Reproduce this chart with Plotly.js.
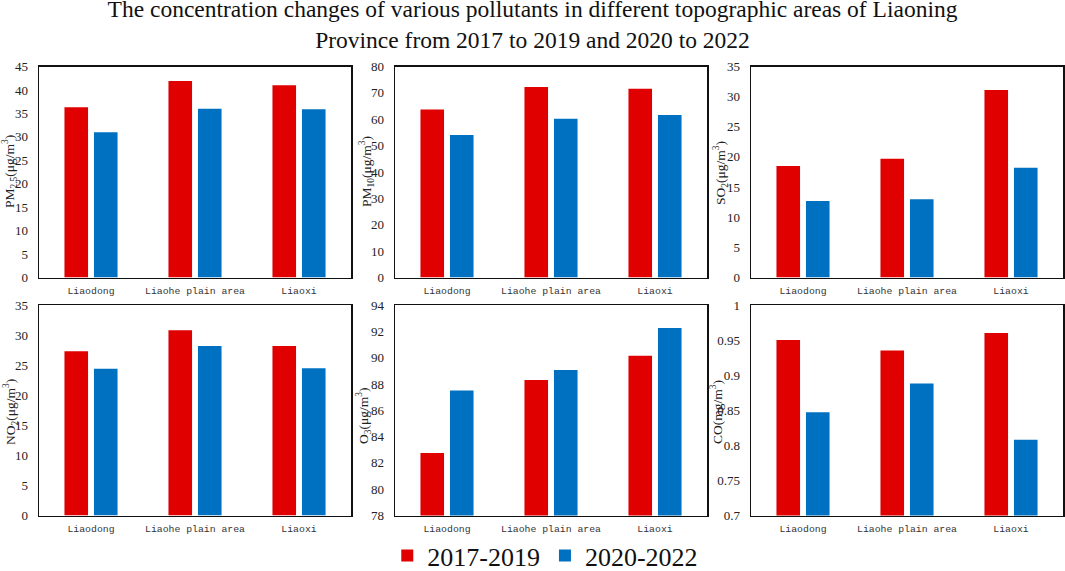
<!DOCTYPE html>
<html><head><meta charset="utf-8">
<script src="https://cdn.plot.ly/plotly-3.0.1.min.js"></script>
<style>html,body{margin:0;padding:0;background:#fff}</style></head>
<body><div id="c" style="width:1065px;height:571px"></div>
<script>
const categories = ["Liaodong","Liaohe plain area","Liaoxi"];
const seriesNames = ["2017-2019","2020-2022"];
const colors = ["#E00000","#0070C0"];
const pm25A = [36.3,41.9,41.0],  pm25B = [31.0,36.0,35.9];
const pm10A = [63.7,72.2,71.6],  pm10B = [54.0,60.2,61.6];
const so2A  = [18.5,19.7,31.1],  so2B  = [12.7,13.0,18.2];
const no2A  = [27.3,30.8,28.2],  no2B  = [24.4,28.2,24.5];
const o3A   = [82.75,88.3,90.15], o3B  = [87.5,89.05,92.25];
const coA   = [0.95,0.935,0.96], coB   = [0.847,0.888,0.808];
const W=1065,H=571;
const panels = [
 {a:pm25A,b:pm25B,t:"PM<sub>2.5</sub>(μg/m<sup>3</sup>)",r:[0,45],d:5,x:[39,351],y:[66.5,277.5],tx:10,ty:172},
 {a:pm10A,b:pm10B,t:"PM<sub>10</sub>(μg/m<sup>3</sup>)",r:[0,80],d:10,x:[395,707],y:[66.5,277.5],tx:367,ty:172},
 {a:so2A,b:so2B,t:"SO<sub>2</sub>(μg/m<sup>3</sup>)",r:[0,35],d:5,x:[751,1063],y:[66.5,277.5],tx:720,ty:173},
 {a:no2A,b:no2B,t:"NO<sub>2</sub>(μg/m<sup>3</sup>)",r:[0,35],d:5,x:[39,351],y:[305,515.5],tx:10,ty:412},
 {a:o3A,b:o3B,t:"O<sub>3</sub>(μg/m<sup>3</sup>)",r:[78,94],d:2,x:[395,707],y:[305,515.5],tx:363,ty:416},
 {a:coA,b:coB,t:"CO(mg/m<sup>3</sup>)",r:[0.7,1],d:0.05,x:[751,1063],y:[305,515.5],tx:716,ty:412}
];
const serif="Liberation Serif, Times New Roman, serif";
const data=[];
const layout={width:W,height:H,margin:{l:0,r:0,t:0,b:0,autoexpand:false},paper_bgcolor:"#fff",plot_bgcolor:"#fff",
 barmode:"group",bargap:0.433,bargroupgap:0.2,showlegend:true,
 font:{family:serif,color:"#222"},
 title:{text:"The concentration changes of various pollutants in different topographic areas of Liaoning<br>Province from 2017 to 2019 and 2020 to 2022",
  font:{family:serif,size:23.5,color:"#111"},x:0.5,xanchor:"center",y:0.9695,yanchor:"top"},
 legend:{orientation:"h",x:0.512,xanchor:"center",y:0.027,yanchor:"middle",font:{family:serif,size:26,color:"#111"},
  itemwidth:30,bgcolor:"rgba(0,0,0,0)"},
 annotations:[]
};
panels.forEach((p,i)=>{
 const n=i+1, xk="x"+(i?n:""), yk="y"+(i?n:"");
 [p.a,p.b].forEach((v,k)=>data.push({type:"bar",x:categories,y:v,name:seriesNames[k],marker:{color:colors[k]},
   xaxis:xk,yaxis:yk,legendgroup:seriesNames[k],showlegend:i===0,offsetgroup:String(k)}));
 layout["xaxis"+(i?n:"")]={domain:[p.x[0]/W,p.x[1]/W],anchor:yk,type:"category",ticks:"",showgrid:false,
   showline:true,linecolor:"#111",linewidth:1.5,mirror:true,ticklabelstandoff:3,
   tickfont:{family:"Liberation Mono, monospace",size:9.8,color:"#333"}};
 layout["yaxis"+(i?n:"")]={domain:[1-p.y[1]/H,1-p.y[0]/H],anchor:xk,range:p.r,dtick:p.d,tick0:p.r[0],ticks:"",showgrid:false,
   zeroline:false,showline:true,linecolor:"#111",linewidth:1.5,mirror:true,ticklabelstandoff:7,
   tickfont:{family:serif,size:13,color:"#222"}};
 layout.annotations.push({text:p.t,xref:"paper",yref:"paper",x:p.tx/W,y:1-p.ty/H,xanchor:"center",yanchor:"middle",
   textangle:-90,showarrow:false,font:{family:serif,size:13.5,color:"#222"}});
});
Plotly.newPlot("c",data,layout,{displayModeBar:false,staticPlot:true});
</script></body></html>
